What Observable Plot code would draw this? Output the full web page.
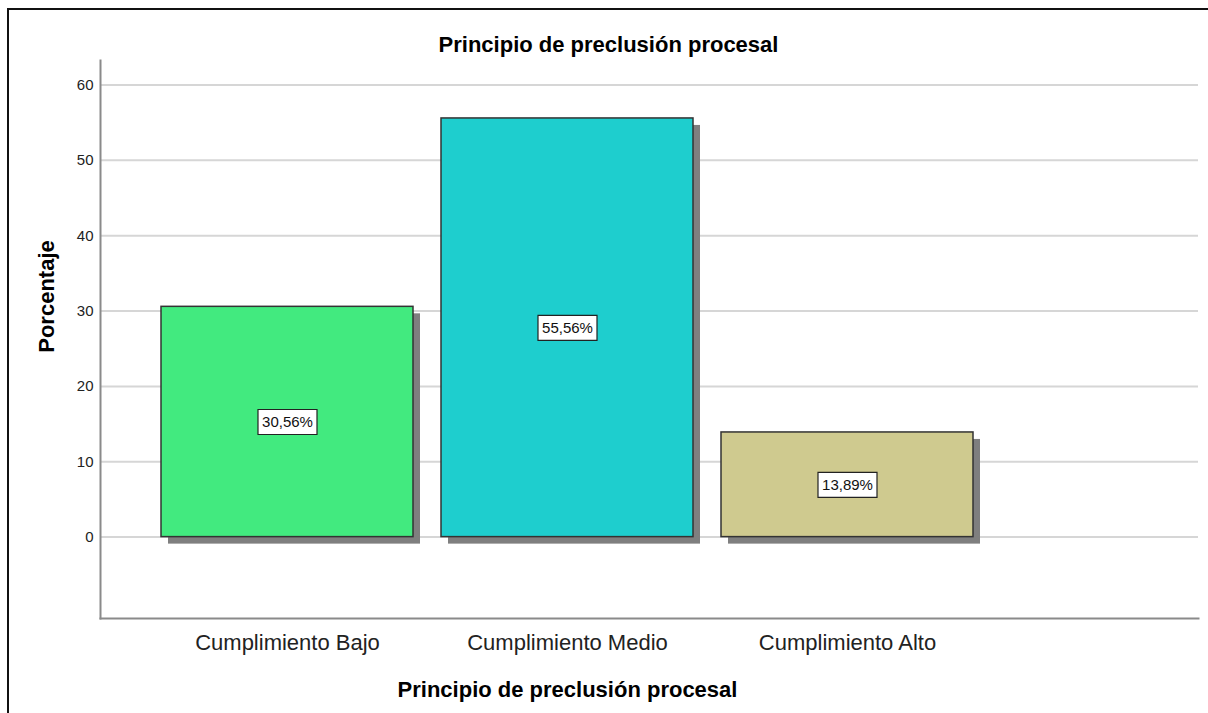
<!DOCTYPE html>
<html>
<head>
<meta charset="utf-8">
<script src="https://cdn.jsdelivr.net/npm/d3@7"></script>
<script src="https://cdn.jsdelivr.net/npm/@observablehq/plot@0.6"></script>
<style>
  html, body { margin: 0; padding: 0; background: #fff; overflow: hidden; }
  #wrap { position: relative; width: 1208px; height: 713px; }
  #border { position: absolute; left: 7px; top: 8px; width: 1230px; height: 740px;
            border-top: 2.5px solid #111; border-left: 2.5px solid #111; pointer-events: none; }
  #chart svg { display: block; }
</style>
</head>
<body>
<div id="wrap"><div id="chart"></div><div id="border"></div></div>
<script>
// ---- data ----
const categories = ["Cumplimiento Bajo", "Cumplimiento Medio", "Cumplimiento Alto"];
const percentages = [30.56, 55.56, 13.89];
const valueLabels = ["30,56%", "55,56%", "13,89%"];
const barColors = ["#42EA7F", "#1ECECE", "#CFCA8F"];
const yTicks = [0, 10, 20, 30, 40, 50, 60];
const chartTitle = "Principio de preclusión procesal";
const xTitle = "Principio de preclusión procesal";
const yTitle = "Porcentaje";

const data = categories.map((c, i) => ({cat: c, pct: percentages[i], label: valueLabels[i]}));

// rectangular label box symbol
const boxSymbol = { draw(ctx) { ctx.rect(-29.5, -12.5, 59, 25); } };

const chart = Plot.plot({
  width: 1208,
  height: 713,
  marginTop: 60,
  marginBottom: 95,
  marginLeft: 100,
  marginRight: 10,
  style: { fontFamily: "'Liberation Sans', Arial, sans-serif", background: "transparent", color: "#222" },
  x: { type: "band", domain: categories, range: [147, 987], paddingInner: 0.1, paddingOuter: 0.05 },
  y: { domain: [-10.8, 63.25] },
  color: { domain: categories, range: barColors },
  marks: [
    Plot.ruleY(yTicks, { stroke: "#d6d6d6", strokeWidth: 2 }),
    Plot.barY(data, { x: "cat", y: "pct", fill: "#7f7f7f", dx: 7, dy: 7 }),
    Plot.barY(data, { x: "cat", y: "pct", fill: "cat", stroke: "#333", strokeWidth: 1.5 }),
    Plot.dot(data, { x: "cat", y: d => d.pct / 2, symbol: boxSymbol, fill: "white", stroke: "#222", strokeWidth: 1.2 }),
    Plot.text(data, { x: "cat", y: d => d.pct / 2, text: "label", fontSize: 15, fill: "#111" }),
    Plot.frame({ anchor: "left", stroke: "#8a8a8a", strokeWidth: 2 }),
    Plot.frame({ anchor: "bottom", stroke: "#8a8a8a", strokeWidth: 2 }),
    Plot.axisY({ ticks: yTicks, tickSize: 0, tickPadding: 7, fontSize: 15, label: null, fill: "#222" }),
    Plot.axisX({ tickSize: 0, tickPadding: 16, fontSize: 22, label: null, fill: "#222" }),
    Plot.text([xTitle], { x: () => categories[1], frameAnchor: "bottom", lineAnchor: "middle", dy: 71, fontSize: 22, fontWeight: "bold", fill: "#000" }),
    Plot.text([yTitle], { frameAnchor: "left", textAnchor: "middle", lineAnchor: "middle", dx: -54, dy: -43, rotate: -90, fontSize: 22, fontWeight: "bold", fill: "#000" }),
    Plot.text([chartTitle], { frameAnchor: "top", textAnchor: "middle", lineAnchor: "middle", dx: -41, dy: -16, fontSize: 22, fontWeight: "bold", fill: "#000" })
  ]
});
document.getElementById("chart").appendChild(chart);
</script>
</body>
</html>
